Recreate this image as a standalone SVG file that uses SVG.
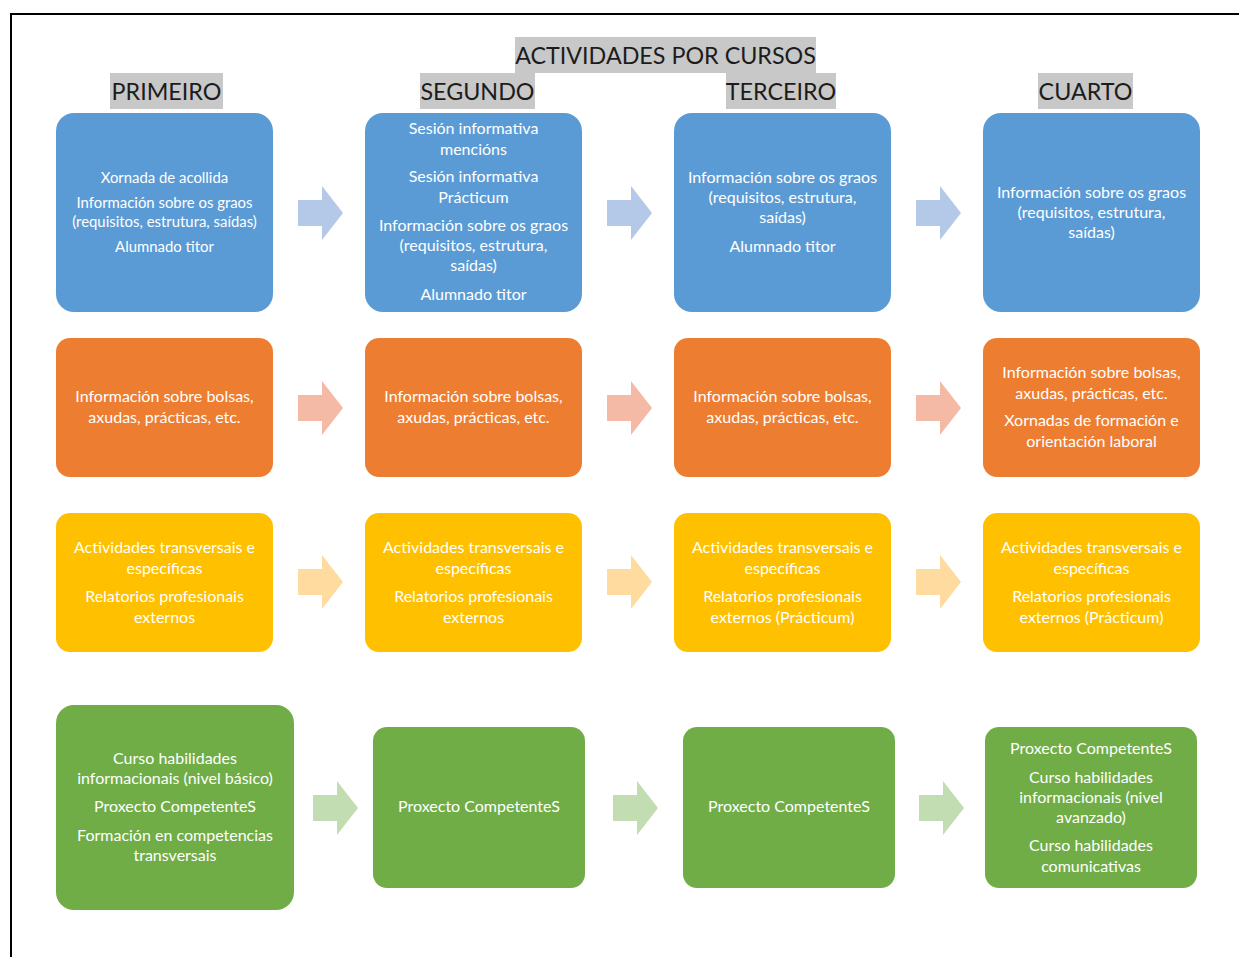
<svg xmlns="http://www.w3.org/2000/svg" width="1239" height="957" viewBox="0 0 1239 957">
<style>
.hl{fill:#c8c8c8}
.hd{font-family:Lato,"Liberation Sans",sans-serif;font-size:23.3px;fill:#1c1c1c;text-anchor:middle}
.t{font-family:Lato,"Liberation Sans",sans-serif;font-size:16px;fill:#ffffff;text-anchor:middle}
.blue{fill:#5b9bd5}
.orange{fill:#ed7d31}
.yellow{fill:#ffc000}
.green{fill:#70ad47}
.ab{fill:#b4c8e8}
.ao{fill:#f5baa6}
.ay{fill:#ffdba0}
.ag{fill:#c3ddb3}
</style>
<defs>
<path id="arr" d="M0,-13 H24 V-27 L45,0 L24,27 V13 H0 Z"/>
</defs>
<rect width="1239" height="957" fill="#ffffff"/>
<path d="M11,957 V14 H1239" fill="none" stroke="#000" stroke-width="2"/>

<g id="headers">
<rect class="hl" x="515" y="37" width="301" height="36"/>
<text class="hd" x="665.5" y="64">ACTIVIDADES POR CURSOS</text>
<rect class="hl" x="110" y="73" width="113" height="36"/>
<text class="hd" x="166.5" y="100">PRIMEIRO</text>
<rect class="hl" x="420" y="73" width="115" height="36"/>
<text class="hd" x="477.5" y="100">SEGUNDO</text>
<rect class="hl" x="726" y="73" width="110" height="36"/>
<text class="hd" x="781" y="100">TERCEIRO</text>
<rect class="hl" x="1038" y="73" width="95" height="36"/>
<text class="hd" x="1085.5" y="100">CUARTO</text>
</g>

<g id="connectors">
<use href="#arr" class="ab" x="298" y="213"/>
<use href="#arr" class="ab" x="607" y="213"/>
<use href="#arr" class="ab" x="916" y="213"/>
<use href="#arr" class="ao" x="298" y="408"/>
<use href="#arr" class="ao" x="607" y="408"/>
<use href="#arr" class="ao" x="916" y="408"/>
<use href="#arr" class="ay" x="298" y="582"/>
<use href="#arr" class="ay" x="607" y="582"/>
<use href="#arr" class="ay" x="916" y="582"/>
<use href="#arr" class="ag" x="313" y="808"/>
<use href="#arr" class="ag" x="613" y="808"/>
<use href="#arr" class="ag" x="919" y="808"/>
</g>

<g id="b11"><rect class="blue" x="56" y="113" width="217" height="199" rx="18"/>
<text class="t" style="font-size:14.9px"><tspan x="164.5" y="183">Xornada de acollida</tspan><tspan x="164.5" y="208">Información sobre os graos</tspan><tspan x="164.5" y="227">(requisitos, estrutura, saídas)</tspan><tspan x="164.5" y="252">Alumnado titor</tspan></text></g>
<g id="b12"><rect class="blue" x="365" y="113" width="217" height="199" rx="18"/>
<text class="t"><tspan x="473.5" y="134">Sesión informativa</tspan><tspan x="473.5" y="155">mencións</tspan><tspan x="473.5" y="182">Sesión informativa</tspan><tspan x="473.5" y="203">Prácticum</tspan><tspan x="473.5" y="231">Información sobre os graos</tspan><tspan x="473.5" y="251">(requisitos, estrutura,</tspan><tspan x="473.5" y="271">saídas)</tspan><tspan x="473.5" y="300">Alumnado titor</tspan></text></g>
<g id="b13"><rect class="blue" x="674" y="113" width="217" height="199" rx="18"/>
<text class="t"><tspan x="782.5" y="183">Información sobre os graos</tspan><tspan x="782.5" y="203">(requisitos, estrutura,</tspan><tspan x="782.5" y="223">saídas)</tspan><tspan x="782.5" y="252">Alumnado titor</tspan></text></g>
<g id="b14"><rect class="blue" x="983" y="113" width="217" height="199" rx="18"/>
<text class="t"><tspan x="1091.5" y="198">Información sobre os graos</tspan><tspan x="1091.5" y="218">(requisitos, estrutura,</tspan><tspan x="1091.5" y="238">saídas)</tspan></text></g>

<g id="o1"><rect class="orange" x="56" y="338" width="217" height="139" rx="14"/>
<text class="t"><tspan x="164.5" y="402">Información sobre bolsas,</tspan><tspan x="164.5" y="423">axudas, prácticas, etc.</tspan></text></g>
<g id="o2"><rect class="orange" x="365" y="338" width="217" height="139" rx="14"/>
<text class="t"><tspan x="473.5" y="402">Información sobre bolsas,</tspan><tspan x="473.5" y="423">axudas, prácticas, etc.</tspan></text></g>
<g id="o3"><rect class="orange" x="674" y="338" width="217" height="139" rx="14"/>
<text class="t"><tspan x="782.5" y="402">Información sobre bolsas,</tspan><tspan x="782.5" y="423">axudas, prácticas, etc.</tspan></text></g>
<g id="o4"><rect class="orange" x="983" y="338" width="217" height="139" rx="14"/>
<text class="t"><tspan x="1091.5" y="378">Información sobre bolsas,</tspan><tspan x="1091.5" y="399">axudas, prácticas, etc.</tspan><tspan x="1091.5" y="426">Xornadas de formación e</tspan><tspan x="1091.5" y="447">orientación laboral</tspan></text></g>

<g id="y1"><rect class="yellow" x="56" y="513" width="217" height="139" rx="14"/>
<text class="t"><tspan x="164.5" y="553">Actividades transversais e</tspan><tspan x="164.5" y="574">específicas</tspan><tspan x="164.5" y="602">Relatorios profesionais</tspan><tspan x="164.5" y="623">externos</tspan></text></g>
<g id="y2"><rect class="yellow" x="365" y="513" width="217" height="139" rx="14"/>
<text class="t"><tspan x="473.5" y="553">Actividades transversais e</tspan><tspan x="473.5" y="574">específicas</tspan><tspan x="473.5" y="602">Relatorios profesionais</tspan><tspan x="473.5" y="623">externos</tspan></text></g>
<g id="y3"><rect class="yellow" x="674" y="513" width="217" height="139" rx="14"/>
<text class="t"><tspan x="782.5" y="553">Actividades transversais e</tspan><tspan x="782.5" y="574">específicas</tspan><tspan x="782.5" y="602">Relatorios profesionais</tspan><tspan x="782.5" y="623">externos (Prácticum)</tspan></text></g>
<g id="y4"><rect class="yellow" x="983" y="513" width="217" height="139" rx="14"/>
<text class="t"><tspan x="1091.5" y="553">Actividades transversais e</tspan><tspan x="1091.5" y="574">específicas</tspan><tspan x="1091.5" y="602">Relatorios profesionais</tspan><tspan x="1091.5" y="623">externos (Prácticum)</tspan></text></g>

<g id="g1"><rect class="green" x="56" y="705" width="238" height="205" rx="18"/>
<text class="t"><tspan x="175" y="764">Curso habilidades</tspan><tspan x="175" y="784">informacionais (nivel básico)</tspan><tspan x="175" y="812">Proxecto CompetenteS</tspan><tspan x="175" y="841">Formación en competencias</tspan><tspan x="175" y="861">transversais</tspan></text></g>
<g id="g2"><rect class="green" x="373" y="727" width="212" height="161" rx="14"/>
<text class="t"><tspan x="479" y="812">Proxecto CompetenteS</tspan></text></g>
<g id="g3"><rect class="green" x="683" y="727" width="212" height="161" rx="14"/>
<text class="t"><tspan x="789" y="812">Proxecto CompetenteS</tspan></text></g>
<g id="g4"><rect class="green" x="985" y="727" width="212" height="161" rx="14"/>
<text class="t"><tspan x="1091" y="754">Proxecto CompetenteS</tspan><tspan x="1091" y="783">Curso habilidades</tspan><tspan x="1091" y="803">informacionais (nivel</tspan><tspan x="1091" y="823">avanzado)</tspan><tspan x="1091" y="851">Curso habilidades</tspan><tspan x="1091" y="872">comunicativas</tspan></text></g>
</svg>
